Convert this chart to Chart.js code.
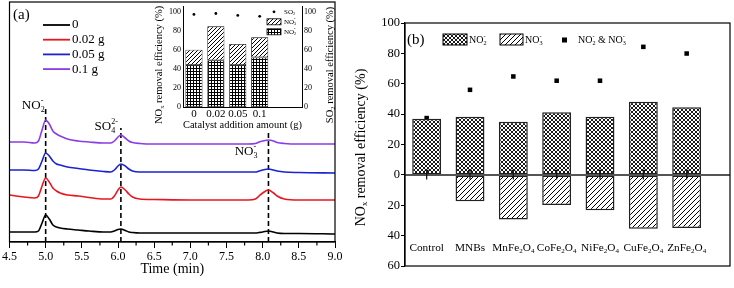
<!DOCTYPE html>
<html lang="en">
<head>
<meta charset="UTF-8">
<title>Ion chromatograms and NOx removal efficiency</title>
<script src="https://cdn.jsdelivr.net/npm/chart.js"></script>
<style>
  body { margin: 0; background: #fff; }
  #wrap { position: relative; width: 734px; height: 288px; overflow: hidden; background: #fff; }
  canvas { position: absolute; top: 0; }
</style>
</head>
<body>
<div id="wrap">
  <canvas id="chromChart" width="350" height="288" style="left:0;width:350px;height:288px"></canvas>
  <canvas id="insetChart" width="210" height="135" style="left:140px;width:210px;height:135px"></canvas>
  <canvas id="removalChart" width="394" height="288" style="left:340px;width:394px;height:288px"></canvas>
</div>

<script>
// ---- panel (a): chromatograms ----
const times = [4.5, 4.7, 4.85, 4.9, 4.95, 5.0, 5.05, 5.1, 5.15, 5.2, 5.3, 5.45, 5.6, 5.8, 5.9,
  5.95, 6.0, 6.04, 6.1, 6.15, 6.2, 6.3, 6.5, 7.0, 7.5, 7.8, 7.9, 7.95, 8.0, 8.08, 8.15, 8.2, 8.3, 8.5, 9.0];
const signal0 = [10, 10, 10, 11, 19, 27, 23, 17, 15, 14, 13, 12, 11, 10, 10,
  11, 12.5, 13, 11.5, 10, 9.5, 9, 9, 9, 9, 9, 9, 9.5, 10, 11, 10, 9, 8.5, 8.5, 8];
const signal002 = [47, 45, 44, 46, 56, 64, 60, 54, 51, 49, 47, 46, 44.5, 43, 43,
  46, 52, 55, 52, 48, 45, 43, 42.5, 42, 42, 42, 43, 46, 49, 52, 49, 46, 43, 42, 42];
const signal005 = [72, 72, 71.5, 73, 81, 89, 86, 81, 78, 77, 75, 73.5, 72, 70.5, 70,
  72, 76, 78, 76, 73, 71, 70, 70, 70, 70, 70, 70, 71, 72, 73, 72, 71, 70, 69.5, 69];
const signal01 = [100, 100, 99, 101, 112, 122, 118, 111, 108, 106, 103, 101, 100, 99, 99,
  101, 105, 107, 104, 101, 99.5, 98.5, 98, 98, 98, 98, 98.5, 100, 101, 102, 101, 99.5, 98.5, 98, 98];
const doseLabels = ['0', '0.02 g', '0.05 g', '0.1 g'];
const peakTimes = [5.0, 6.04, 8.08];
const peakMarkTops = [135, 114, 110];
const peakNames = ['NO_{2}^{-}', 'SO_{4}^{2-}', 'NO_{3}^{-}'];

// ---- inset: removal vs catalyst amount ----
const catalystLabels = ['0', '0.02', '0.05', '0.1'];
const insetNO2 = [44, 49, 44, 52];
const insetNO3 = [16, 35.5, 22, 21];
const insetSO2 = [97, 98, 96, 95];

// ---- panel (b): removal by catalyst ----
const samples = ['Control', 'MNBs', 'MnFe_{2}O_{4}', 'CoFe_{2}O_{4}', 'NiFe_{2}O_{4}', 'CuFe_{2}O_{4}', 'ZnFe_{2}O_{4}'];
const no2Removal = [37, 38.3, 35, 41.3, 38.3, 48.2, 44.6];
const no3Removal = [0, 17.3, 29.4, 19.9, 23.3, 35.4, 34.9];
const totalRemoval = [37.4, 56, 64.8, 62, 62, 84.3, 79.9];
const removalErr = [3, 3, 3, 3, 3, 3, 3];

const SERIF = '"Liberation Serif", "Times New Roman", serif';
Chart.defaults.font.family = SERIF;
Chart.defaults.color = '#000';

// text with _{sub} and ^{sup} parts, chemistry style (sup stacked over sub)
function richParts(str) {
  const parts = [];
  const re = /([_^])\{([^}]*)\}|([^_^]+)/g;
  let m;
  while ((m = re.exec(str))) {
    if (m[3]) parts.push({ t: m[3], m: 0 });
    else parts.push({ t: m[2], m: m[1] === '_' ? -1 : 1 });
  }
  return parts;
}
function layoutRich(ctx, str, size) {
  let x = 0, start = 0, sw = 0, last = 0;
  const items = [];
  for (const p of richParts(str)) {
    const fs = p.m ? size * 0.62 : size;
    ctx.font = fs + 'px ' + SERIF;
    const w = ctx.measureText(p.t).width;
    if (p.m && last === -p.m) {
      items.push({ ...p, x: start, fs });
      sw = Math.max(sw, w);
      x = start + sw;
      last = 2;
    } else {
      items.push({ ...p, x, fs });
      if (p.m) { start = x; sw = w; last = p.m; } else last = 0;
      x += w;
    }
  }
  return { items, width: x };
}
function drawRich(ctx, str, x, y, size, align = 'left', rotate = false) {
  const lay = layoutRich(ctx, str, size);
  ctx.save();
  ctx.translate(x, y);
  if (rotate) ctx.rotate(-Math.PI / 2);
  const x0 = align === 'center' ? -lay.width / 2 : align === 'right' ? -lay.width : 0;
  ctx.fillStyle = '#000';
  ctx.textBaseline = 'middle';
  ctx.textAlign = 'left';
  lay.items.forEach(it => {
    ctx.font = it.fs + 'px ' + SERIF;
    const dy = it.m === -1 ? size * 0.3 : it.m === 1 ? -size * 0.38 : 0;
    ctx.fillText(it.t, x0 + it.x, dy);
  });
  ctx.restore();
}

function makePattern(ctx, kind) {
  const s = { cross: 4, grid: 3, diag: 5, diagSmall: 4 }[kind];
  const c = document.createElement('canvas');
  c.width = c.height = s;
  const g = c.getContext('2d');
  g.fillStyle = '#fff';
  g.fillRect(0, 0, s, s);
  g.strokeStyle = '#000';
  g.lineWidth = 1;
  g.beginPath();
  if (kind === 'cross') {
    g.lineWidth = 0.9;
    g.moveTo(0, 0); g.lineTo(s, s);
    g.moveTo(0, s); g.lineTo(s, 0);
  } else if (kind === 'grid') {
    g.moveTo(s - 0.5, 0); g.lineTo(s - 0.5, s);
    g.moveTo(0, s - 0.5); g.lineTo(s, s - 0.5);
  } else {
    g.moveTo(0, s); g.lineTo(s, 0);
    g.moveTo(-1, 1); g.lineTo(1, -1);
    g.moveTo(s - 1, s + 1); g.lineTo(s + 1, s - 1);
  }
  g.stroke();
  return ctx.createPattern(c, 'repeat');
}

// ---------- panel (a) ----------
const curveColors = ['#000000', '#e8161e', '#1b22d2', '#8b3ce6'];
const curves = [signal0, signal002, signal005, signal01];

const chromDecor = {
  id: 'chromDecor',
  afterDraw(chart) {
    const { ctx, chartArea: a, scales: { x, y } } = chart;
    ctx.save();
    ctx.strokeStyle = '#000';
    ctx.lineWidth = 1.2;
    ctx.strokeRect(a.left, a.top, a.right - a.left, a.bottom - a.top);
    // minor ticks between the labelled ones
    const vals = x.ticks.map(t => t.value);
    ctx.beginPath();
    for (let i = 0; i < vals.length - 1; i++) {
      const px = x.getPixelForValue((vals[i] + vals[i + 1]) / 2);
      ctx.moveTo(px, a.bottom); ctx.lineTo(px, a.bottom + 3.5);
    }
    ctx.stroke();
    // legend
    doseLabels.forEach((lab, i) => {
      const ly = 25 + i * 14.7;
      ctx.strokeStyle = curveColors[i];
      ctx.lineWidth = 1.8;
      ctx.beginPath(); ctx.moveTo(43, ly); ctx.lineTo(70, ly); ctx.stroke();
      drawRich(ctx, lab, 72, ly, 13);
    });
    // peak names
    drawRich(ctx, peakNames[0], x.getPixelForValue(peakTimes[0]) - 1, y.getPixelForValue(peakMarkTops[0]) - 1, 13, 'right');
    drawRich(ctx, peakNames[1], x.getPixelForValue(peakTimes[1]) - 3, y.getPixelForValue(peakMarkTops[1]) - 1, 13, 'right');
    drawRich(ctx, peakNames[2], x.getPixelForValue(peakTimes[2]) - 11, y.getPixelForValue(peakMarkTops[2]) + 20, 13, 'right');
    ctx.font = '15px ' + SERIF;
    ctx.textBaseline = 'middle';
    ctx.fillStyle = '#000';
    ctx.fillText('(a)', 13, 15);
    ctx.restore();
  }
};

new Chart(document.getElementById('chromChart'), {
  type: 'line',
  data: {
    datasets: [
      ...curves.map((vals, i) => ({
        label: doseLabels[i],
        data: times.map((t, j) => ({ x: t, y: vals[j] })),
        borderColor: curveColors[i],
        borderWidth: 1.6,
        pointRadius: 0,
        cubicInterpolationMode: 'monotone'
      })),
      ...peakTimes.map((t, i) => ({
        label: 'peak ' + i,
        data: [{ x: t, y: 0 }, { x: t, y: peakMarkTops[i] }],
        borderColor: '#000',
        borderWidth: 1.6,
        borderDash: [5, 3],
        pointRadius: 0
      }))
    ]
  },
  options: {
    responsive: false,
    animation: false,
    layout: { padding: { left: 8, right: 15, top: 2, bottom: 9 } },
    plugins: { legend: { display: false }, tooltip: { enabled: false } },
    scales: {
      x: {
        type: 'linear', min: 4.5, max: 9.0,
        ticks: { stepSize: 0.5, autoSkip: false, maxRotation: 0, padding: 2,
          callback: v => v.toFixed(1), font: { size: 12 } },
        grid: { drawOnChartArea: false, tickLength: 6, color: '#000' },
        border: { color: '#000', width: 1.2 },
        title: { display: true, text: 'Time (min)', font: { size: 14 }, padding: { top: 0, bottom: 1 } },
        afterFit(s) { s.height = 37; }
      },
      y: { display: false, min: 0, max: 240 }
    }
  },
  plugins: [chromDecor]
});

// ---------- inset ----------
const insetCanvas = document.getElementById('insetChart');
const insetCtx = insetCanvas.getContext('2d');

const insetDecor = {
  id: 'insetDecor',
  afterDraw(chart) {
    const { ctx, chartArea: a } = chart;
    ctx.save();
    drawRich(ctx, 'NO_{x} removal efficiency (%)', a.left - 24, (a.top + a.bottom) / 2 + 8, 10.5, 'center', true);
    drawRich(ctx, 'SO_{2} removal efficiency (%)', a.right + 28, (a.top + a.bottom) / 2 + 8, 10.5, 'center', true);
    // legend
    const lx = a.right - 35;
    ctx.fillStyle = '#000';
    ctx.beginPath(); ctx.arc(lx + 7, a.top + 5, 1.4, 0, Math.PI * 2); ctx.fill();
    drawRich(ctx, 'SO_{2}', lx + 17, a.top + 5, 7);
    ctx.lineWidth = 0.8;
    ctx.strokeStyle = '#000';
    ctx.fillStyle = chart.data.datasets[1].backgroundColor;
    ctx.fillRect(lx, a.top + 12, 14, 6); ctx.strokeRect(lx, a.top + 12, 14, 6);
    drawRich(ctx, 'NO_{3}^{-}', lx + 17, a.top + 15, 7);
    ctx.fillStyle = chart.data.datasets[0].backgroundColor;
    ctx.fillRect(lx, a.top + 22, 14, 6); ctx.strokeRect(lx, a.top + 22, 14, 6);
    drawRich(ctx, 'NO_{2}^{-}', lx + 17, a.top + 25, 7);
    ctx.restore();
  }
};

new Chart(insetCanvas, {
  type: 'bar',
  data: {
    datasets: [
      { label: 'NO2-', data: catalystLabels.map((_, i) => ({ x: i, y: insetNO2[i] })),
        backgroundColor: makePattern(insetCtx, 'grid'), borderColor: '#000', borderWidth: 0.8,
        borderSkipped: false, stack: 's', barPercentage: 0.78, categoryPercentage: 1 },
      { label: 'NO3-', data: catalystLabels.map((_, i) => ({ x: i, y: insetNO3[i] })),
        backgroundColor: makePattern(insetCtx, 'diagSmall'), borderColor: '#000', borderWidth: 0.8,
        borderSkipped: false, stack: 's', barPercentage: 0.78, categoryPercentage: 1 },
      { type: 'scatter', label: 'SO2', data: catalystLabels.map((_, i) => ({ x: i, y: insetSO2[i] })),
        yAxisID: 'y2', pointRadius: 1.4, backgroundColor: '#000', borderWidth: 0 }
    ]
  },
  options: {
    responsive: false,
    animation: false,
    layout: { padding: { left: 0, right: 0, top: 2, bottom: 0 } },
    plugins: { legend: { display: false }, tooltip: { enabled: false } },
    scales: {
      x: {
        type: 'linear', min: -0.5, max: 4.93, stacked: true, offset: false,
        afterBuildTicks(s) { s.ticks = catalystLabels.map((_, i) => ({ value: i })); },
        ticks: { callback: v => catalystLabels[v], font: { size: 11 }, padding: 1, maxRotation: 0, autoSkip: false },
        grid: { display: false, drawTicks: false, tickLength: 0 },
        border: { color: '#000', width: 1 },
        title: { display: true, text: 'Catalyst addition amount (g)', font: { size: 11 }, padding: { top: 0, bottom: 3 } },
        afterFit(s) { s.height = 28; }
      },
      y: {
        min: 0, max: 105, stacked: true,
        ticks: { stepSize: 20, includeBounds: false, font: { size: 8 }, padding: 2 },
        grid: { display: false, drawTicks: false, tickLength: 0 },
        border: { color: '#000', width: 1 },
        afterFit(s) { s.width = 43; }
      },
      y2: {
        position: 'right', min: 0, max: 105,
        ticks: { stepSize: 20, includeBounds: false, font: { size: 8 }, padding: 2 },
        grid: { display: false, drawTicks: false, tickLength: 0 },
        border: { color: '#000', width: 1 },
        afterFit(s) { s.width = 48; }
      }
    }
  },
  plugins: [insetDecor]
});

// ---------- panel (b) ----------
const removalCanvas = document.getElementById('removalChart');
const removalCtx = removalCanvas.getContext('2d');
const crossFill = makePattern(removalCtx, 'cross');
const diagFill = makePattern(removalCtx, 'diag');

const removalDecor = {
  id: 'removalDecor',
  afterDraw(chart) {
    const { ctx, chartArea: a, scales: { x, y } } = chart;
    ctx.save();
    // zero line
    const y0 = y.getPixelForValue(0);
    ctx.strokeStyle = '#555';
    ctx.lineWidth = 2;
    ctx.beginPath(); ctx.moveTo(a.left, y0); ctx.lineTo(a.right, y0); ctx.stroke();
    // error bars
    ctx.strokeStyle = '#111';
    ctx.lineWidth = 1.2;
    removalErr.forEach((e, i) => {
      const px = x.getPixelForValue(i);
      const t = y.getPixelForValue(e), b = y.getPixelForValue(-e);
      ctx.beginPath();
      ctx.moveTo(px, t); ctx.lineTo(px, b);
      ctx.moveTo(px - 2, t); ctx.lineTo(px + 2, t);
      ctx.stroke();
    });
    // frame
    ctx.strokeStyle = '#000';
    ctx.lineWidth = 1.2;
    ctx.strokeRect(a.left, a.top, a.right - a.left, a.bottom - a.top);
    // minor ticks shorter: cover outer half of ticks at odd tens
    // sample names
    samples.forEach((s, i) => {
      drawRich(ctx, s, x.getPixelForValue(i), y.getPixelForValue(-48), 11.3, 'center');
    });
    // legend
    const ly = a.top + 17;
    ctx.font = '15px ' + SERIF;
    ctx.fillStyle = '#000';
    ctx.textBaseline = 'middle';
    ctx.fillText('(b)', a.left + 2, ly);
    ctx.lineWidth = 1;
    ctx.fillStyle = crossFill;
    ctx.fillRect(a.left + 38, ly - 6, 24, 11); ctx.strokeRect(a.left + 38, ly - 6, 24, 11);
    drawRich(ctx, 'NO_{2}^{-}', a.left + 64, ly, 10);
    ctx.fillStyle = diagFill;
    ctx.fillRect(a.left + 95, ly - 6, 23, 11); ctx.strokeRect(a.left + 95, ly - 6, 23, 11);
    drawRich(ctx, 'NO_{3}^{-}', a.left + 120, ly, 10);
    ctx.fillStyle = '#000';
    ctx.fillRect(a.left + 157, ly - 2.5, 5, 5);
    drawRich(ctx, 'NO_{2}^{-} & NO_{3}^{-}', a.left + 173, ly, 10);
    // y title
    drawRich(ctx, 'NO_{x} removal efficiency (%)', a.left - 44, (a.top + a.bottom) / 2 + 3, 14, 'center', true);
    ctx.restore();
  }
};

new Chart(removalCanvas, {
  type: 'bar',
  data: {
    datasets: [
      { label: 'NO2-', data: samples.map((_, i) => ({ x: i, y: no2Removal[i] })),
        backgroundColor: crossFill, borderColor: '#222', borderWidth: 1.5, borderSkipped: false,
        stack: 'bars', barPercentage: 0.667, categoryPercentage: 1 },
      { label: 'NO3-', data: samples.map((_, i) => ({ x: i, y: -no3Removal[i] })),
        backgroundColor: diagFill, borderColor: '#222', borderWidth: 1.5, borderSkipped: false,
        stack: 'bars', barPercentage: 0.667, categoryPercentage: 1 },
      { type: 'scatter', label: 'NO2- & NO3-', data: samples.map((_, i) => ({ x: i, y: totalRemoval[i] })),
        pointStyle: 'rect', pointRadius: 3.2, backgroundColor: '#000', borderWidth: 0, stack: 'pts' }
    ]
  },
  options: {
    responsive: false,
    animation: false,
    layout: { padding: { left: 0, right: 1, top: 23, bottom: 22 } },
    plugins: { legend: { display: false }, tooltip: { enabled: false } },
    scales: {
      x: { type: 'linear', display: false, min: -0.5, max: 7.0, stacked: true, offset: false },
      y: {
        min: -60, max: 100, stacked: true,
        ticks: { stepSize: 10, includeBounds: false, padding: 1, font: { size: 12.5 },
          callback: v => (v % 20 === 0 ? Math.abs(v) : '') },
        grid: { drawOnChartArea: false, tickLength: 4, color: '#000' },
        border: { color: '#000', width: 1.2 },
        afterFit(s) { s.width = 65; }
      }
    }
  },
  plugins: [removalDecor]
});
</script>
</body>
</html>
